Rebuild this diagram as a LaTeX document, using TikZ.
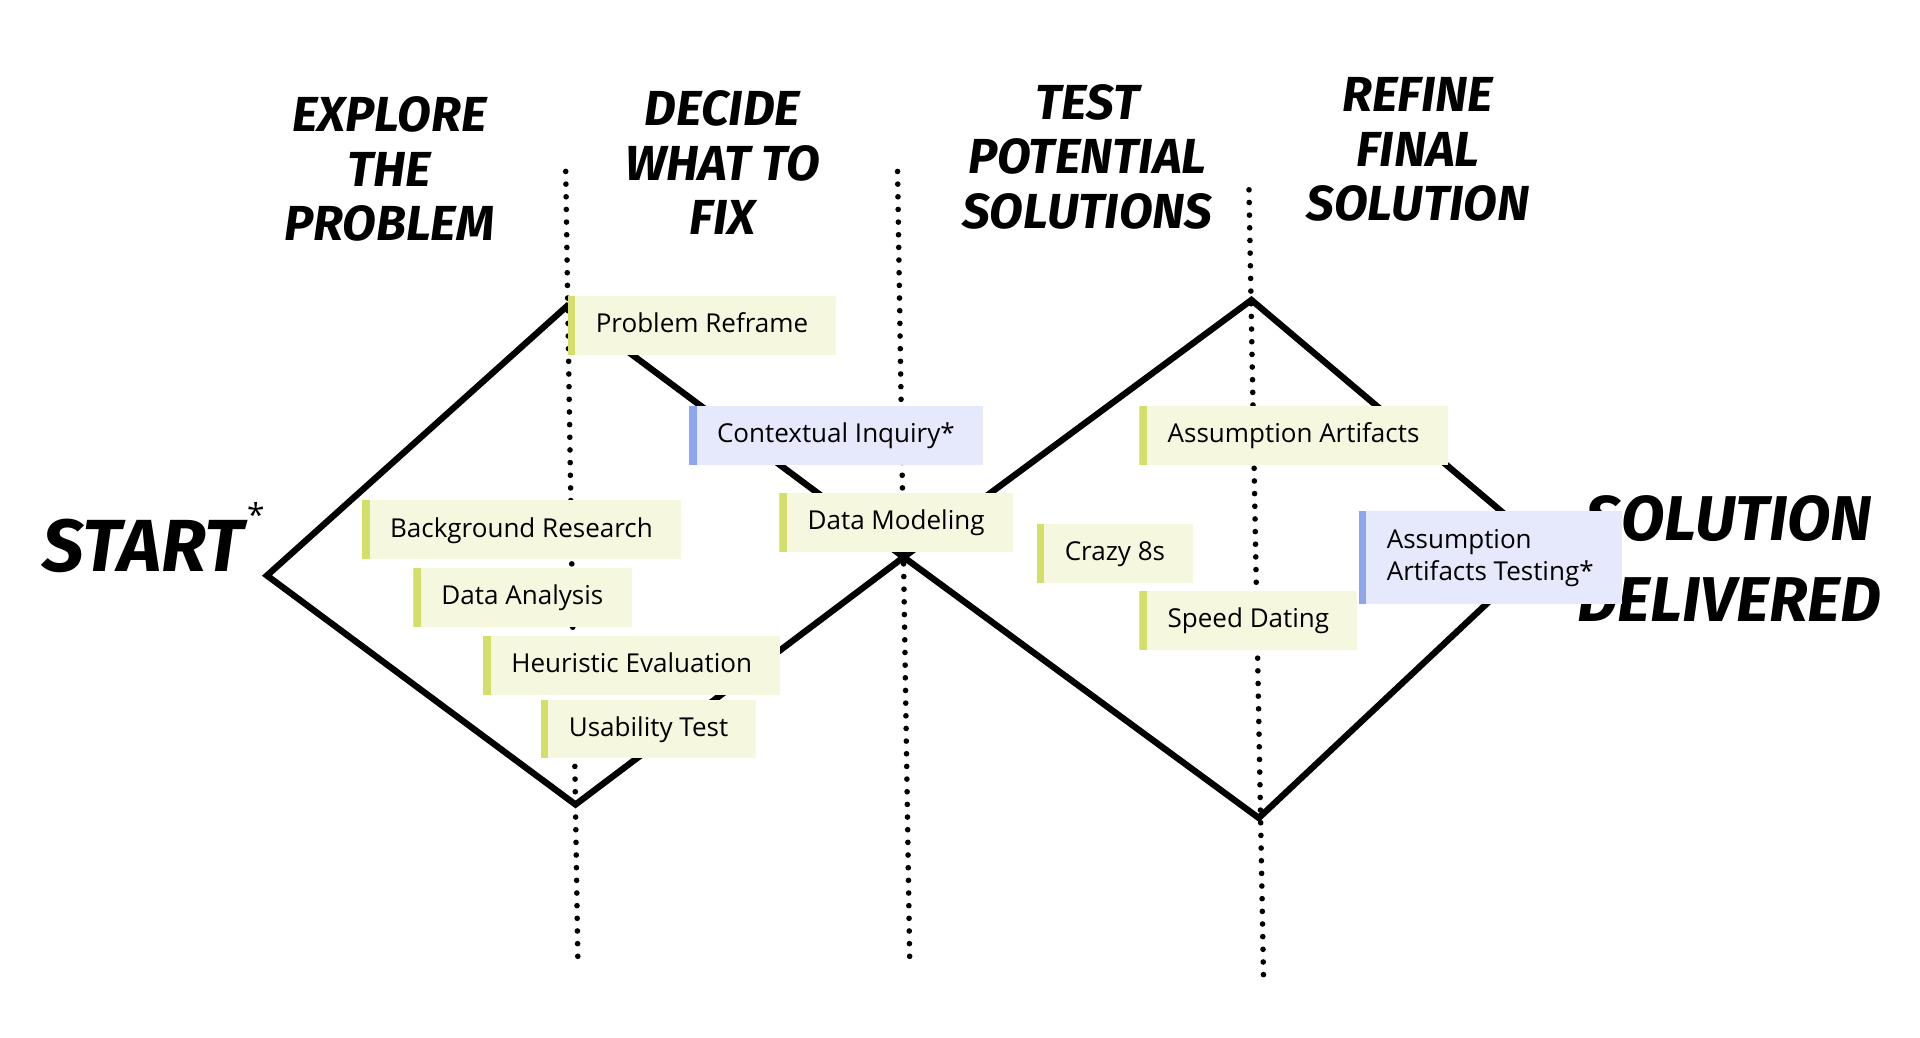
\documentclass[tikz,border=0pt]{standalone}
\usepackage{fontspec}
\setmainfont{Open Sans}
\newfontfamily\handfont{Fira Sans}
\usetikzlibrary{positioning}
\definecolor{notegreen}{HTML}{F6F7DF}
\definecolor{bargreen}{HTML}{D3DF6A}
\definecolor{noteblue}{HTML}{E5E9FB}
\definecolor{barblue}{HTML}{8EA6EE}
\tikzset{
  note/.style={fill=notegreen, anchor=north west, inner xsep=8pt, align=left,
    font=\fontsize{7.4}{9.2}\selectfont, text height=5.6pt, text depth=1.5pt,
    path picture={\fill[bargreen] (path picture bounding box.north west) rectangle ([xshift=2.2pt]path picture bounding box.south west);}},
  bluenote/.style={note, fill=noteblue,
    path picture={\fill[barblue] (path picture bounding box.north west) rectangle ([xshift=2.2pt]path picture bounding box.south west);}},
  title/.style={font=\handfont\bfseries\itshape\fontsize{14}{15.5}\selectfont, align=center},
  phase/.style={line width=1.6pt, dash pattern=on 0pt off 3.6pt, line cap=round},
  diamond line/.style={line width=1.8pt, line join=miter}
}
\begin{document}
\begin{tikzpicture}[x=0.012245cm, y=-0.012245cm]
\useasboundingbox (0,0) rectangle (1568,847);

% phase separators
\coordinate (s1a) at (462,140); \coordinate (s1b) at (472,790);
\coordinate (s2a) at (733,140); \coordinate (s2b) at (743,790);
\coordinate (s3a) at (1020,155); \coordinate (s3b) at (1032,805);
\draw[phase] (s1a) -- (s1b);
\draw[phase] (s2a) -- (s2b);
\draw[phase] (s3a) -- (s3b);

% double diamond
\coordinate (d1l) at (218,470);
\coordinate (d1t) at (463,250);
\coordinate (d1b) at (470,657);
\coordinate (mid) at (738,455);
\coordinate (d2t) at (1022,245);
\coordinate (d2b) at (1028,668);
\coordinate (d2r) at (1262,448);
\draw[diamond line] (d1l) -- (d1t) -- (mid) -- (d2t) -- (d2r) -- (d2b) -- (mid) -- (d1b) -- cycle;

% titles
\node[title] (t1) at (318,138) {EXPLORE\\THE\\PROBLEM};
\node[title] (t2) at (590,133) {DECIDE\\WHAT TO\\FIX};
\node[title] (t3) at (888,128) {TEST\\POTENTIAL\\SOLUTIONS};
\node[title] (t4) at (1158,122) {REFINE\\FINAL\\SOLUTION};
\node[title, font=\handfont\bfseries\itshape\fontsize{21}{24}\selectfont] (start) at (117,446) {START};
\node[font=\fontsize{9}{9}\selectfont] (star) at (209,420) {*};
\node[title, font=\handfont\bfseries\itshape\fontsize{18}{23}\selectfont] (end) at (1412,456) {SOLUTION\\DELIVERED};

% notes
\node[note, minimum width=2.6cm, minimum height=0.59cm] (n1) at (463,241) {Problem Reframe};
\node[bluenote, minimum width=2.84cm, minimum height=0.59cm] (n2) at (562,331) {Contextual Inquiry*};
\node[note, minimum width=3.18cm, minimum height=0.59cm] (n3) at (295,408) {Background Research};
\node[note, minimum width=2.28cm, minimum height=0.59cm] (n4) at (636,402) {Data Modeling};
\node[note, minimum width=2.16cm, minimum height=0.59cm] (n5) at (337,463) {Data Analysis};
\node[note, minimum width=2.93cm, minimum height=0.59cm] (n6) at (394,519) {Heuristic Evaluation};
\node[note, minimum width=2.13cm, minimum height=0.58cm] (n7) at (441,571) {Usability Test};
\node[note, minimum width=3.07cm, minimum height=0.59cm] (n8) at (930,331) {Assumption Artifacts};
\node[note, minimum width=1.56cm, minimum height=0.59cm] (n9) at (846,427) {Crazy 8s};
\node[note, minimum width=2.16cm, minimum height=0.59cm] (n10) at (930,482) {Speed Dating};
\node[bluenote, minimum width=2.6cm, minimum height=0.93cm, text height=, text depth=] (n11) at (1109,417) {Assumption\\Artifacts Testing*};
\end{tikzpicture}
\end{document}
